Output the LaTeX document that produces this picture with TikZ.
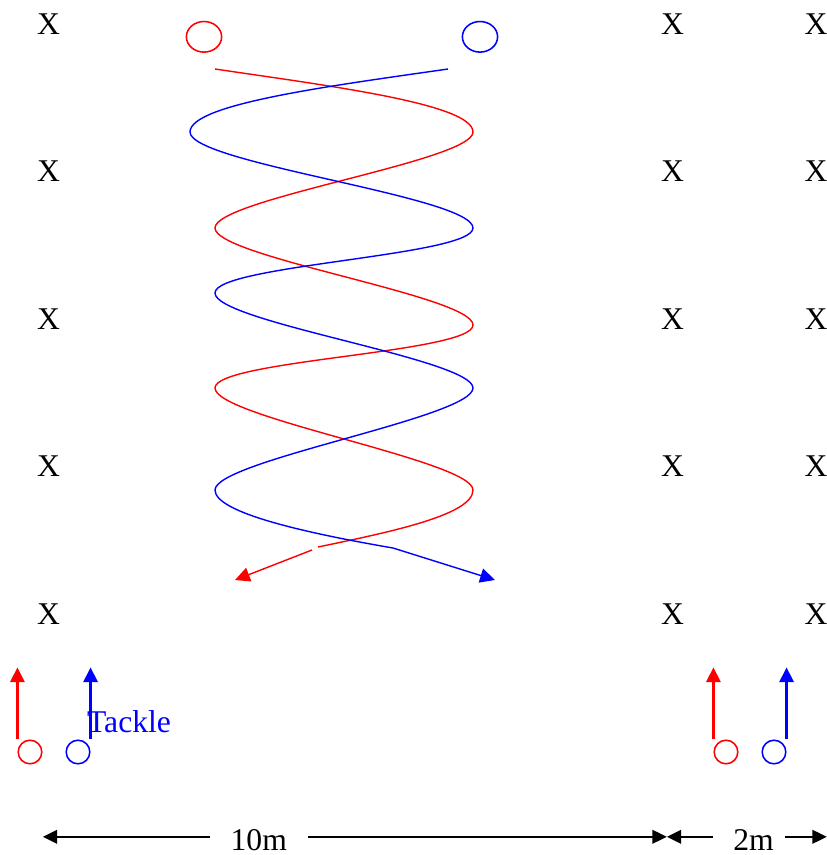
\documentclass[tikz,border=0pt]{standalone}
\usepackage{fontspec}
\setmainfont{Liberation Serif}
\usetikzlibrary{positioning,shapes.geometric,arrows.meta}
\tikzset{
  lbl/.style={font=\fontsize{22.5}{27}\selectfont, inner sep=0pt},
  player/.style={draw=#1, circle, line width=1.1pt, inner sep=0pt, minimum size=5.9mm},
  lead/.style={draw=#1, ellipse, line width=1.1pt, inner sep=0pt, minimum width=8.8mm, minimum height=7.65mm},
  run/.style={draw=#1, line width=1.6pt, -{Triangle[length=3.7mm, width=3.6mm]}},
  helix/.style={draw=#1, line width=1pt},
  twist/.style={out=-90, in=90, looseness=0.27},
  dim/.style={line width=1.5pt, -{Triangle[length=3.6mm, width=3.4mm]}}}

\begin{document}
\begin{tikzpicture}
\useasboundingbox (0,0) rectangle (20.675,-21.375);
% cones
\foreach \i in {0,...,4}
  \foreach \x [count=\j] in {1.2125,16.8125,20.4}
    \node[lbl] (x\i\j) at (\x,-0.6-3.6875*\i) {X};
% the two weaving players
\node[lead=red] (r0) at (5.1,-0.92) {};
\node[lead=blue] (b0) at (12.0,-0.92) {};
\draw[helix=red] (5.375,-1.725) .. controls (8.25,-2.15) and (11.825,-2.6) .. (11.825,-3.3)
  to[twist] (5.375,-5.7) to[twist] (11.825,-8.125) to[twist] (5.375,-9.7) to[twist] (11.825,-12.25)
  .. controls (11.825,-12.875) and (9.75,-13.3) .. (7.95,-13.675);
\draw[run=red, line width=1pt] (7.8,-13.75) -- (5.875,-14.5);
\draw[helix=blue] (11.2,-1.725) .. controls (8.25,-2.15) and (4.75,-2.6) .. (4.75,-3.3)
  to[twist] (11.825,-5.7) to[twist] (5.375,-7.325) to[twist] (11.825,-9.7) to[twist] (5.375,-12.25)
  .. controls (5.375,-12.8) and (7.5,-13.3) .. (9.825,-13.7);
\draw[run=blue, line width=1pt] (9.825,-13.7) -- (12.375,-14.5);
% waiting players
\foreach \n/\x/\c/\s in {ra/0.75/red/west, ba/1.95/blue/east, rb/18.15/red/west, bb/19.35/blue/east} {
  \node[player=\c] (\n) at (\x,-18.8) {};
  \path (\n.\s |- \n.north) ++(0,1.8) coordinate (\n-go);
  \draw[run=\c] (\n.\s |- \n.north) -- (\n-go);
}
\node[lbl, text=blue] (tackle) at (3.225,-18.03) {Tackle};
% distances
\coordinate (d0) at (1.07,-20.92);
\coordinate (d1) at (16.67,-20.92);
\coordinate (d2) at (20.67,-20.92);
\node[lbl, inner xsep=5.1mm] (ten) at (6.47,-21.0) {10m};
\node[lbl, inner xsep=5mm] (two) at (18.84,-21.0) {2m};
\draw[dim] (ten.west |- d0) -- (d0);
\draw[dim] (ten.east |- d0) -- (d1);
\draw[dim] (two.west |- d0) -- (d1);
\draw[dim] (two.east |- d0) ++(-0.23,0) -- (d2);
\end{tikzpicture}
\end{document}
